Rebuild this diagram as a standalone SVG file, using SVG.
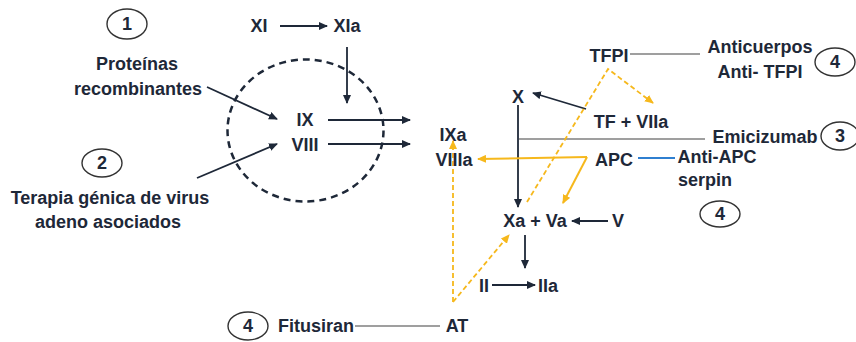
<svg xmlns="http://www.w3.org/2000/svg" width="856" height="342" viewBox="0 0 856 342">
<defs>
<style>
text{font-family:"Liberation Sans",Arial,sans-serif;font-weight:bold;font-size:18px;fill:#1e2838;text-anchor:middle}
.dk{stroke:#1e2838;stroke-width:1.8;fill:none}
.gr{stroke:#7f7f7f;stroke-width:1.5;fill:none}
.bl{stroke:#2f7fd0;stroke-width:1.8;fill:none}
.ys{stroke:#f6b81c;stroke-width:2;fill:none}
.yd{stroke:#f6b81c;stroke-width:1.8;fill:none;stroke-dasharray:5 3}
.num{fill:none;stroke:#333;stroke-width:1.4}
</style>
<marker id="ad" markerUnits="userSpaceOnUse" markerWidth="9" markerHeight="8" refX="8" refY="4" orient="auto"><path d="M0,0 L9,4 L0,8 z" fill="#1e2838"/></marker>
<marker id="ay" markerUnits="userSpaceOnUse" markerWidth="9" markerHeight="8" refX="8" refY="4" orient="auto"><path d="M0,0 L9,4 L0,8 z" fill="#f6b81c"/></marker>
</defs>
<rect width="856" height="342" fill="#ffffff"/>

<g id="connectors">
<ellipse cx="305.5" cy="130.5" rx="78" ry="71" fill="none" stroke="#1e2838" stroke-width="2.5" stroke-dasharray="7 5"/>
<line class="dk" x1="280" y1="26" x2="327" y2="26" marker-end="url(#ad)"/>
<line class="dk" x1="347" y1="47" x2="347" y2="103" marker-end="url(#ad)"/>
<line class="dk" x1="207" y1="87" x2="277" y2="119" marker-end="url(#ad)"/>
<line class="dk" x1="197" y1="178" x2="277" y2="144" marker-end="url(#ad)"/>
<line class="dk" x1="328" y1="120" x2="410" y2="120" marker-end="url(#ad)"/>
<line class="dk" x1="328" y1="144" x2="410" y2="144" marker-end="url(#ad)"/>
<line class="dk" x1="586" y1="109" x2="533" y2="93" marker-end="url(#ad)"/>
<line class="dk" x1="518" y1="105" x2="518" y2="207" marker-end="url(#ad)"/>
<line class="dk" x1="608" y1="221" x2="572" y2="221" marker-end="url(#ad)"/>
<line class="dk" x1="525" y1="235" x2="525" y2="268" marker-end="url(#ad)"/>
<line class="dk" x1="492" y1="285" x2="535" y2="285" marker-end="url(#ad)"/>
<line class="gr" x1="630" y1="54" x2="700" y2="54"/>
<line class="gr" x1="519" y1="139" x2="705" y2="139"/>
<line class="gr" x1="355" y1="326" x2="440" y2="326"/>
<line class="bl" x1="638" y1="158" x2="675" y2="158"/>
<line class="ys" x1="587" y1="157" x2="478" y2="159" marker-end="url(#ay)"/>
<line class="ys" x1="587" y1="157" x2="563" y2="203" marker-end="url(#ay)"/>
<polyline class="yd" points="527,202 608,69 653,103" marker-end="url(#ay)"/>
<line class="yd" x1="453" y1="302" x2="453" y2="141" marker-end="url(#ay)"/>
<line class="yd" x1="453" y1="302" x2="509" y2="235" marker-end="url(#ay)"/>
</g>

<g id="n1"><ellipse class="num" cx="127" cy="24" rx="20" ry="15"/><text x="127" y="30">1</text></g>
<g id="n2"><ellipse class="num" cx="102" cy="163" rx="20" ry="14"/><text x="102" y="169">2</text></g>
<g id="n4a"><ellipse class="num" cx="248" cy="326" rx="20" ry="14"/><text x="248" y="332">4</text></g>
<g id="n4b"><ellipse class="num" cx="835" cy="62" rx="20" ry="14"/><text x="835" y="68">4</text></g>
<g id="n3"><ellipse class="num" cx="840" cy="136" rx="19" ry="14"/><text x="840" y="142">3</text></g>
<g id="n4c"><ellipse class="num" cx="720" cy="214" rx="20" ry="13"/><text x="720" y="220">4</text></g>

<g id="XI"><text x="259" y="32">XI</text></g>
<g id="XIa"><text x="347" y="32">XIa</text></g>
<g id="recomb"><text x="137" y="70">Proteínas</text><text x="138" y="95">recombinantes</text></g>
<g id="IX"><text x="305" y="126">IX</text></g>
<g id="VIII"><text x="305" y="151">VIII</text></g>
<g id="terapia"><text x="110" y="204">Terapia génica de virus</text><text x="108" y="228">adeno asociados</text></g>
<g id="fitusiran"><text x="316" y="332">Fitusiran</text></g>
<g id="AT"><text x="457" y="332">AT</text></g>
<g id="IXa"><text x="453" y="141">IXa</text></g>
<g id="VIIIa"><text x="454" y="166">VIIIa</text></g>
<g id="X"><text x="518" y="103">X</text></g>
<g id="TFVIIa"><text x="631" y="128">TF + VIIa</text></g>
<g id="TFPI"><text x="609" y="62">TFPI</text></g>
<g id="anticuerpos"><text x="760" y="53">Anticuerpos</text><text x="760" y="78">Anti- TFPI</text></g>
<g id="emicizumab"><text x="765" y="143">Emicizumab</text></g>
<g id="APC"><text x="614" y="166">APC</text></g>
<g id="antiapc"><text x="717" y="163">Anti-APC</text><text x="678" y="186" style="text-anchor:start">serpin</text></g>
<g id="XaVa"><text x="535" y="227">Xa + Va</text></g>
<g id="V"><text x="618" y="227">V</text></g>
<g id="II"><text x="484" y="292">II</text></g>
<g id="IIa"><text x="548" y="292">IIa</text></g>
</svg>
